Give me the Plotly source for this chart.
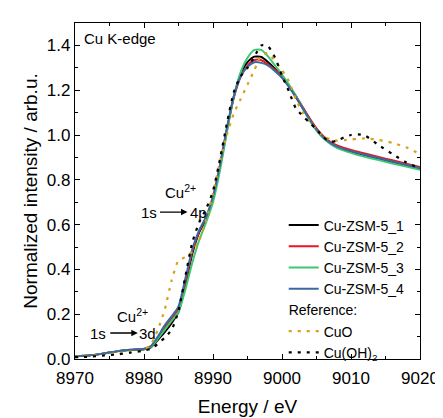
import plotly.graph_objects as go

energy = [8970, 8972, 8974, 8976, 8978, 8980, 8981, 8982, 8983, 8984, 8985, 8986, 8987,
          8988, 8989, 8990, 8991, 8992, 8993, 8994, 8995, 8996, 8997, 8998, 8999, 9000,
          9001, 9002, 9003, 9004, 9005, 9006, 9007, 9008, 9009, 9010, 9011, 9012, 9014,
          9016, 9018, 9020]

zsm_1 = [0.012, 0.016, 0.024, 0.034, 0.040, 0.044, 0.052, 0.085, 0.12, 0.16, 0.21, 0.33, 0.47,
         0.565, 0.625, 0.715, 0.855, 1.02, 1.17, 1.27, 1.325, 1.35, 1.348, 1.325, 1.295, 1.26,
         1.22, 1.17, 1.12, 1.07, 1.025, 0.99, 0.965, 0.948, 0.936, 0.927, 0.918, 0.91, 0.895,
         0.88, 0.865, 0.85]
zsm_2 = [0.012, 0.016, 0.024, 0.034, 0.041, 0.045, 0.056, 0.095, 0.14, 0.18, 0.225, 0.345, 0.48,
         0.57, 0.63, 0.72, 0.86, 1.02, 1.165, 1.26, 1.31, 1.335, 1.334, 1.315, 1.29, 1.26,
         1.22, 1.175, 1.125, 1.075, 1.03, 0.995, 0.97, 0.953, 0.942, 0.933, 0.925, 0.917, 0.902,
         0.887, 0.872, 0.857]
zsm_3 = [0.012, 0.016, 0.024, 0.034, 0.040, 0.044, 0.054, 0.09, 0.13, 0.17, 0.21, 0.31, 0.43,
         0.53, 0.61, 0.70, 0.84, 1.01, 1.17, 1.28, 1.345, 1.38, 1.38, 1.35, 1.31, 1.27,
         1.225, 1.175, 1.12, 1.065, 1.02, 0.985, 0.96, 0.942, 0.93, 0.92, 0.911, 0.903, 0.888,
         0.873, 0.859, 0.845]
zsm_4 = [0.012, 0.016, 0.024, 0.034, 0.041, 0.046, 0.058, 0.10, 0.15, 0.19, 0.235, 0.36, 0.49,
         0.575, 0.635, 0.725, 0.865, 1.03, 1.17, 1.26, 1.305, 1.325, 1.322, 1.31, 1.285, 1.255,
         1.215, 1.17, 1.12, 1.07, 1.025, 0.99, 0.965, 0.948, 0.937, 0.928, 0.92, 0.912, 0.897,
         0.882, 0.867, 0.852]
cuo = [0.010, 0.012, 0.018, 0.025, 0.032, 0.040, 0.065, 0.13, 0.22, 0.35, 0.44, 0.455, 0.48,
       0.53, 0.62, 0.74, 0.88, 1.00, 1.095, 1.16, 1.225, 1.29, 1.355, 1.365, 1.33, 1.29,
       1.24, 1.16, 1.10, 1.06, 1.025, 0.995, 0.98, 0.975, 0.977, 0.98, 0.983, 0.985, 0.978,
       0.965, 0.945, 0.915]
cuoh2 = [0.008, 0.010, 0.015, 0.020, 0.028, 0.038, 0.045, 0.068, 0.095, 0.13, 0.215, 0.37, 0.52,
         0.61, 0.67, 0.75, 0.89, 1.05, 1.19, 1.262, 1.30, 1.35, 1.40, 1.395, 1.345, 1.265,
         1.195, 1.12, 1.085, 1.055, 1.025, 0.99, 0.97, 0.975, 0.99, 1.0, 1.003, 0.998, 0.955,
         0.915, 0.878, 0.85]

x_ticks = [8970, 8980, 8990, 9000, 9010, 9020]
y_ticks = [0.0, 0.2, 0.4, 0.6, 0.8, 1.0, 1.2, 1.4]

samples = [
    ("Cu-ZSM-5_1", zsm_1, "#000000"),
    ("Cu-ZSM-5_2", zsm_2, "#f0141e"),
    ("Cu-ZSM-5_3", zsm_3, "#3cc86e"),
    ("Cu-ZSM-5_4", zsm_4, "#3c68a2"),
]
references = [
    ("CuO", cuo, "#d6a11a"),
    ("Cu(OH)<sub>2</sub>", cuoh2, "#000000"),
]

FONT = "Liberation Sans, Arial, sans-serif"

fig = go.Figure()
for name, vals, col in samples:
    fig.add_trace(go.Scatter(x=energy, y=vals, mode="lines", name=name,
                             line=dict(color=col, width=2, shape="spline", smoothing=0.6),
                             legendgroup="smp", legendrank=1))
for name, vals, col in references:
    fig.add_trace(go.Scatter(x=energy, y=vals, mode="lines", name=name,
                             line=dict(color=col, width=2.2, dash="3px,6px", shape="spline", smoothing=0.6),
                             legendgroup="ref", legendgrouptitle_text="Reference:", legendrank=2))

axis_common = dict(showline=True, linecolor="black", linewidth=1.3, mirror="ticks",
                   ticks="inside", ticklen=5, tickwidth=1.2, tickcolor="black",
                   showgrid=False, zeroline=False,
                   tickfont=dict(family=FONT, size=17, color="black"),
                   minor=dict(ticks="inside", ticklen=3, tickwidth=1.1, tickcolor="black"))

fig.update_layout(
    width=443, height=418,
    margin=dict(l=67, r=20, t=15, b=53),
    paper_bgcolor="white", plot_bgcolor="white",
    font=dict(family=FONT, color="black"),
    xaxis=dict(range=[8970, 9020], tickvals=x_ticks, ticktext=[str(v) for v in x_ticks],
               ticklabelstandoff=3,
               title=dict(text="Energy / eV", font=dict(family=FONT, size=19), standoff=13),
               **axis_common),
    yaxis=dict(range=[0, 1.5], tickvals=y_ticks, ticktext=[f"{v:.1f}" for v in y_ticks],
               title=dict(text="Normalized intensity / arb.u.", font=dict(family=FONT, size=19), standoff=4),
               **axis_common),
    legend=dict(x=0.605, y=0.445, xanchor="left", yanchor="top", bgcolor="rgba(0,0,0,0)",
                font=dict(family=FONT, size=14), tracegroupgap=0,
                grouptitlefont=dict(family=FONT, size=14)),
    showlegend=True,
)
fig.update_xaxes(minor_dtick=5)
fig.update_yaxes(minor_dtick=0.1)

ann_font = dict(family=FONT, size=15, color="black")
fig.add_annotation(x=8971.0, y=1.432, text="Cu K-edge", showarrow=False, xanchor="left", yanchor="middle", font=ann_font)
fig.add_annotation(x=8985.3, y=0.75, text="Cu<sup>2+</sup>", showarrow=False, font=ann_font)
fig.add_annotation(x=8980.7, y=0.656, text="1s", showarrow=False, font=ann_font)
fig.add_annotation(x=8987.9, y=0.656, text="4p", showarrow=False, font=ann_font)
fig.add_annotation(x=8986.3, y=0.656, ax=8982.1, ay=0.656, axref="x", ayref="y", text="",
                   showarrow=True, arrowhead=2, arrowsize=1, arrowwidth=1.3, arrowcolor="black")
fig.add_annotation(x=8978.3, y=0.193, text="Cu<sup>2+</sup>", showarrow=False, font=ann_font)
fig.add_annotation(x=8973.3, y=0.116, text="1s", showarrow=False, font=ann_font)
fig.add_annotation(x=8980.5, y=0.116, text="3d", showarrow=False, font=ann_font)
fig.add_annotation(x=8979.1, y=0.116, ax=8974.9, ay=0.116, axref="x", ayref="y", text="",
                   showarrow=True, arrowhead=2, arrowsize=1, arrowwidth=1.3, arrowcolor="black")

fig.write_html("out.html")
